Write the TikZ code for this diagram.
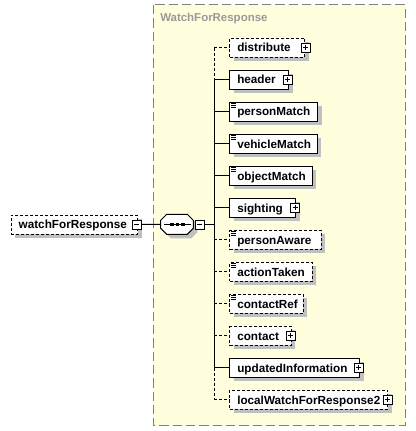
\documentclass[tikz,border=0pt]{standalone}
\usepackage{fontspec}
\setmainfont{Liberation Sans}
\usetikzlibrary{shadows}
\definecolor{paleyellow}{RGB}{255,255,221}
\definecolor{boxgray}{RGB}{128,128,128}
\definecolor{titlegray}{RGB}{153,153,153}
\definecolor{shadowgray}{RGB}{192,192,192}
\tikzset{
  elem/.style={draw=black, line width=0.75pt, fill=white, anchor=west,
    minimum height=14.25pt, inner xsep=5.6pt, inner ysep=0pt,
    text height=6.75pt, text depth=0.45pt, align=left,
    font=\fontsize{8.8}{10}\selectfont\bfseries,
    drop shadow={shadow xshift=3pt, shadow yshift=-3pt, fill=shadowgray, opacity=1}},
  optbox/.style={dash pattern=on 2.25pt off 1.5pt},
  optline/.style={dash pattern=on 2.25pt off 1.5pt},
  conn/.style={line width=0.75pt, draw=black},
  pm/.style={draw=black, fill=white, line width=0.75pt, minimum size=6.75pt, inner sep=0pt},
  plusbox/.style={pm, path picture={
     \draw[line width=0.75pt] ([xshift=1.5pt]path picture bounding box.west) -- ([xshift=-1.5pt]path picture bounding box.east);
     \draw[line width=0.75pt] ([yshift=-1.5pt]path picture bounding box.north) -- ([yshift=1.5pt]path picture bounding box.south);}},
  minusbox/.style={pm, path picture={
     \draw[line width=0.75pt] ([xshift=1.5pt]path picture bounding box.west) -- ([xshift=-1.5pt]path picture bounding box.east);}},
}
\newcommand{\docicon}[1]{%
  \foreach \dy in {1.5,3.5,5.5}{\draw[line width=0.75pt] ([xshift=1.5pt,yshift=-\dy*0.75pt]#1.north west) -- ([xshift=5.25pt,yshift=-\dy*0.75pt]#1.north west);}}
\begin{document}
\begin{tikzpicture}[x=0.75pt,y=-0.75pt]
\useasboundingbox (0,0) rectangle (416,431);
\fill[white] (0,0) rectangle (416,431);
% group box
\draw[fill=paleyellow, draw=boxgray, line width=0.75pt, dash pattern=on 7pt off 3pt] (153,5) rectangle (405,425.5);
\node[anchor=base west, inner sep=0pt, text=titlegray, font=\fontsize{8.6}{10}\selectfont\bfseries] (title) at (160,21.7) {WatchForResponse};

% root element
\node[elem, optbox, text width=126.6*0.75pt-11.2pt] (root) at (10.7,224.7) {watchForResponse};
\node[minusbox] (rootm) at (136.7,224.5) {};

% sequence compositor (octagon)
\fill[shadowgray] (170.7,218.3) -- (191.3,218.3) -- (197.3,224.3) -- (197.3,232.3) -- (191.3,238.3) -- (170.7,238.3) -- (164.7,232.3) -- (164.7,224.3) -- cycle;
\draw[fill=white, line width=0.75pt] (166.7,214.3) -- (187.3,214.3) -- (193.3,220.3) -- (193.3,228.3) -- (187.3,234.3) -- (166.7,234.3) -- (160.7,228.3) -- (160.7,220.3) -- cycle;
\node[minimum width=24.5pt, minimum height=15pt, inner sep=0pt] (seq) at (177,224.3) {};
\draw[line width=0.75pt] (164,224.5) -- (190.7,224.5);
\foreach \xx in {172,177.5,183}{\fill (\xx-1.6,223) rectangle (\xx+1.6,226);}
\node[minusbox] (seqm) at (199.5,224.5) {};
\coordinate (tr) at (214,224.5);

% children
\node[elem, optbox, text width=75*0.75pt-11.2pt] (c1) at (229.3,47.8) {distribute};
\node[elem, text width=59*0.75pt-11.2pt] (c2) at (229.3,79.8) {header};
\node[elem, text width=88*0.75pt-11.2pt] (c3) at (229.3,111.8) {personMatch};
\node[elem, text width=87.4*0.75pt-11.2pt] (c4) at (229.3,143.8) {vehicleMatch};
\node[elem, text width=82.4*0.75pt-11.2pt] (c5) at (229.3,175.8) {objectMatch};
\node[elem, text width=65.7*0.75pt-11.2pt] (c6) at (229.3,207.8) {sighting};
\node[elem, optbox, text width=91.4*0.75pt-11.2pt] (c7) at (229.3,239.8) {personAware};
\node[elem, optbox, text width=82.4*0.75pt-11.2pt] (c8) at (229.3,271.8) {actionTaken};
\node[elem, optbox, text width=73.4*0.75pt-11.2pt] (c9) at (229.3,303.8) {contactRef};
\node[elem, optbox, text width=61.4*0.75pt-11.2pt] (c10) at (229.3,335.8) {contact};
\node[elem, text width=129.7*0.75pt-11.2pt] (c11) at (229.3,367.8) {updatedInformation};
\node[elem, optbox, text width=158*0.75pt-11.2pt] (c12) at (229.3,399.8) {localWatchForResponse2};

% documentation icons
\docicon{c3}\docicon{c4}\docicon{c5}\docicon{c7}\docicon{c8}\docicon{c9}

% expand boxes
\node[plusbox] (p1) at ([xshift=0.4pt]c1.east) {};
\node[plusbox] (p2) at ([xshift=-1pt]c2.east) {};
\node[plusbox] (p6) at ([xshift=-0.75pt]c6.east) {};
\node[plusbox] (p10) at ([xshift=-0.75pt]c10.east) {};
\node[plusbox] (p11) at ([xshift=-1pt]c11.east) {};
\node[plusbox] (p12) at ([xshift=-0.5pt]c12.east) {};

% connectors
\draw[conn] (rootm.east) -- (seq.west);
\draw[conn] (seqm.east) -- (tr);
\draw[conn, optline] (c1.west -| tr) -- (c2.west -| tr);
\draw[conn] (c2.west -| tr) -- (c11.west -| tr);
\draw[conn, optline] (c11.west -| tr) -- (c12.west -| tr);
\foreach \n in {c2,c3,c4,c5,c6,c11}{\draw[conn] (\n.west -| tr) -- (\n.west);}
\foreach \n in {c1,c7,c8,c9,c10,c12}{\draw[conn, optline] (\n.west -| tr) -- (\n.west);}
\end{tikzpicture}
\end{document}
